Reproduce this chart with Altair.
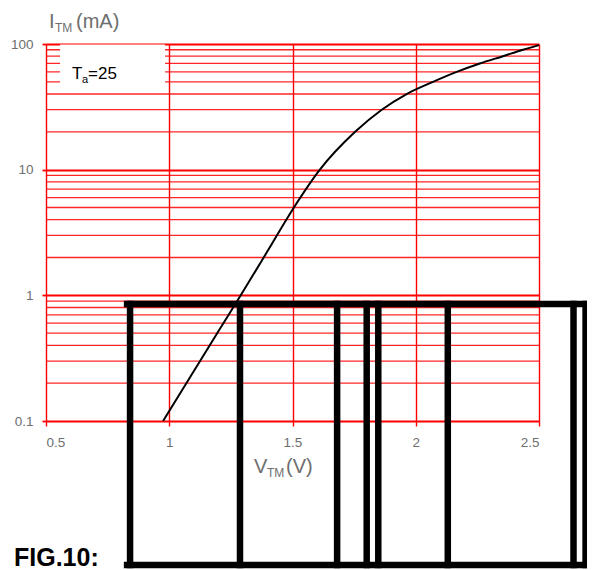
import altair as alt
import pandas as pd

# ---- data ----
v_tm = [0.975, 1.1, 1.2, 1.29, 1.4, 1.5, 1.611, 1.754, 1.862, 1.963, 2.07, 2.166, 2.26, 2.354, 2.435, 2.5]
i_tm = [0.1, 0.25, 0.52, 1.0, 2.27, 4.8, 10, 20, 30, 40, 50, 60, 70, 80, 90, 98]

x_ticks = [0.5, 1, 1.5, 2, 2.5]
y_major = [0.1, 1, 10, 100]
y_minor = [0.2, 0.3, 0.4, 0.5, 0.6, 0.7, 0.8, 0.9,
           2, 3, 4, 5, 6, 7, 8, 9,
           20, 30, 40, 50, 60, 70, 80, 90]

# legend box (white) in data units
box_v = [0.557, 0.983]
box_i = [48, 99]

# black frame overlay (in data units)
frame_verticals = [0.841, 1.287, 1.681, 1.801, 1.848, 2.130, 2.640, 2.689]
frame_left, frame_right = 0.829, 2.703
frame_top, frame_bottom = 0.853, 0.00714

W, H = 493, 377
RED = "#ff0000"
GREY = "#6e6e6e"
FONT = "Liberation Sans"

xs = alt.Scale(domain=[0.5, 2.5], nice=False, zero=False)
ys = alt.Scale(type="log", domain=[0.1, 100], nice=False)

curve_df = pd.DataFrame({"V": v_tm, "I": i_tm})
minor_df = pd.DataFrame({"I": y_minor})

base_axes = alt.Chart(curve_df).mark_line(opacity=0).encode(
    x=alt.X("V:Q", scale=xs,
            axis=alt.Axis(values=x_ticks, format="~g", grid=True, gridColor=RED, gridWidth=1.4,
                          domain=False, ticks=True, tickColor=RED, tickSize=5, tickWidth=1.4,
                          labelColor=GREY, labelFont=FONT, labelFontSize=13.5, labelPadding=9,
                          title=None)),
    y=alt.Y("I:Q", scale=ys,
            axis=alt.Axis(values=y_major, format="~g", grid=True, gridColor=RED, gridWidth=1.8,
                          domain=False, ticks=True, tickColor=RED, tickSize=4, tickWidth=1.8,
                          labelColor=GREY, labelFont=FONT, labelFontSize=13.5, labelPadding=9,
                          title=None)),
)

minor = alt.Chart(minor_df).mark_rule(color=RED, strokeWidth=1.3, opacity=0.85).encode(
    x=alt.datum(0.5, type="quantitative"),
    x2=alt.datum(2.5),
    y=alt.Y("I:Q", scale=ys),
)

box_df = pd.DataFrame({"x": [box_v[0]], "x2": [box_v[1]], "y": [box_i[0]], "y2": [box_i[1]]})
legend_box = alt.Chart(box_df).mark_rect(color="white").encode(
    x=alt.X("x:Q", scale=xs), x2="x2:Q", y=alt.Y("y:Q", scale=ys), y2="y2:Q"
)

curve = alt.Chart(curve_df).mark_line(color="black", strokeWidth=2, interpolate="monotone").encode(
    x=alt.X("V:Q", scale=xs), y=alt.Y("I:Q", scale=ys)
)

vert_df = pd.DataFrame({"x": frame_verticals, "y": [frame_top] * len(frame_verticals),
                        "y2": [frame_bottom] * len(frame_verticals)})
verts = alt.Chart(vert_df).mark_rule(color="black", strokeWidth=6.5, strokeCap="square").encode(
    x=alt.X("x:Q", scale=xs), y=alt.Y("y:Q", scale=ys), y2="y2:Q"
)
horiz_df = pd.DataFrame({"x": [frame_left, frame_left], "x2": [frame_right, frame_right],
                         "y": [frame_top, frame_bottom]})
horiz = alt.Chart(horiz_df).mark_rule(color="black", strokeWidth=6.5, strokeCap="square").encode(
    x=alt.X("x:Q", scale=xs), x2="x2:Q", y=alt.Y("y:Q", scale=ys)
)

one = pd.DataFrame({"a": [0]})


def label(text, x, y, size, color=GREY, weight="normal"):
    return alt.Chart(one).mark_text(text=text, align="left", baseline="alphabetic",
                                    font=FONT, fontSize=size, color=color,
                                    fontWeight=weight).encode(x=alt.value(x), y=alt.value(y))


texts = [
    label("I", 3, -16, 20),
    label("TM", 9, -12, 12),
    label("(mA)", 30, -16, 20),
    label("T", 26, 35, 17, "black"),
    label("a", 36, 39, 11, "black"),
    label("=25", 42, 35, 17, "black"),
    label("V", 208, 52 + H, 20),
    label("TM", 221, 56 + H, 12),
    label("(V)", 240, 52 + H, 20),
    label("FIG.10:", -32, 145 + H, 25, "black", "bold"),
]

chart = alt.layer(base_axes, minor, legend_box, curve, verts, horiz, *texts).properties(
    width=W, height=H,
    autosize=alt.AutoSizeParams(type="none"),
    padding={"left": 38, "top": 36, "right": 48, "bottom": 149},
).configure_view(stroke=None)

chart.save("out.html", embed_options={"renderer": "svg", "actions": False})
